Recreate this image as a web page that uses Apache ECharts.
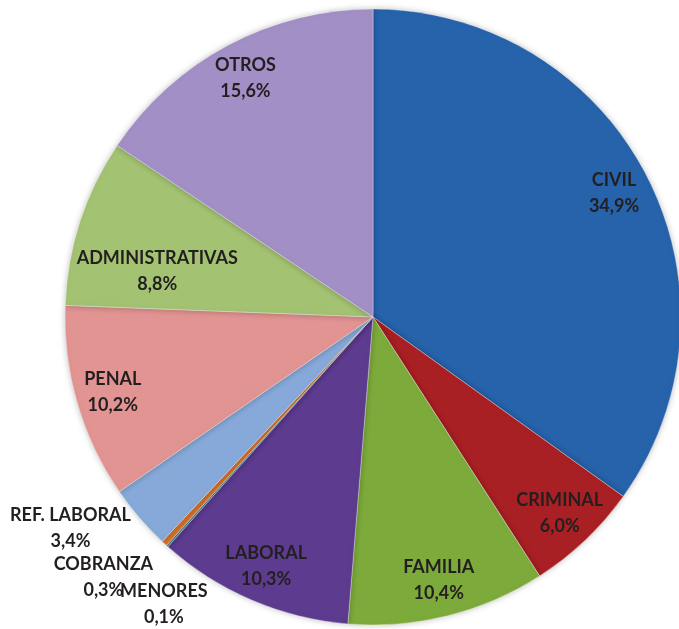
<!DOCTYPE html>
<html>
<head>
<meta charset="UTF-8">
<title></title>
<style>
  html, body { margin: 0; padding: 0; background: #fff; }
</style>
</head>
<body>
<div id="main" style="width:679px;height:629px"></div>
<script src="https://cdn.jsdelivr.net/npm/echarts@6/dist/echarts.min.js"></script>
<script type="text/javascript">
	var categories = ['CIVIL', 'CRIMINAL', 'FAMILIA', 'LABORAL', 'MENORES', 'COBRANZA', 'REF. LABORAL', 'PENAL', 'ADMINISTRATIVAS', 'OTROS'];
	var values = [34.9, 6.0, 10.4, 10.3, 0.1, 0.3, 3.4, 10.2, 8.8, 15.6];
	var colors = ['#2763ab', '#a92024', '#7dab3b', '#5d3b8f', '#2f8c9c', '#d8722c', '#86a9d9', '#e19492', '#a3c272', '#a18fc6'];

	// label nudges (px) for the few labels that sit away from the ring
	var labelShift = {
		'MENORES': [-28, 86],
		'COBRANZA': [-86, 61],
		'REF. LABORAL': [-97, 35],
		'ADMINISTRATIVAS': [42, 38]
	};

	var myCharts = echarts.init(document.querySelector("#main"))

	var pieData = categories.map(function(name, i) {
		return { name: name, value: values[i], itemStyle: { color: colors[i] } };
	});

	var option = {
		animation: false,
		series: [{
			type: 'pie',
			center: [373, 317],
			radius: [0, 308],
			startAngle: 90,
			clockwise: true,
			silent: true,
			label: { show: false },
			labelLine: { show: false },
			itemStyle: {
				borderColor: 'rgba(255,255,255,0.35)',
				borderWidth: 1,
				shadowBlur: 6,
				shadowColor: 'rgba(0,0,0,0.25)'
			},
			data: pieData
		}, {
			// transparent ring only used to place the labels
			type: 'pie',
			center: [373, 317],
			radius: [228, 308],
			startAngle: 90,
			clockwise: true,
			silent: true,
			itemStyle: { color: 'rgba(0,0,0,0)' },
			label: {
				show: true,
				position: 'inside',
				color: '#231f20',
				fontFamily: 'Lato',
				fontWeight: 'bold',
				fontSize: 18,
				lineHeight: 26,
				formatter: function(p) {
					return p.name + '\n' + p.value.toFixed(1).replace('.', ',') + '%';
				}
			},
			labelLine: { show: false },
			labelLayout: function(params) {
				var s = labelShift[categories[params.dataIndex]];
				if (s) return { dx: s[0], dy: s[1] };
				return {};
			},
			data: categories.map(function(name, i) {
				return { name: name, value: values[i] };
			})
		}]
	};

	myCharts.setOption(option)
</script>
</body>
</html>
